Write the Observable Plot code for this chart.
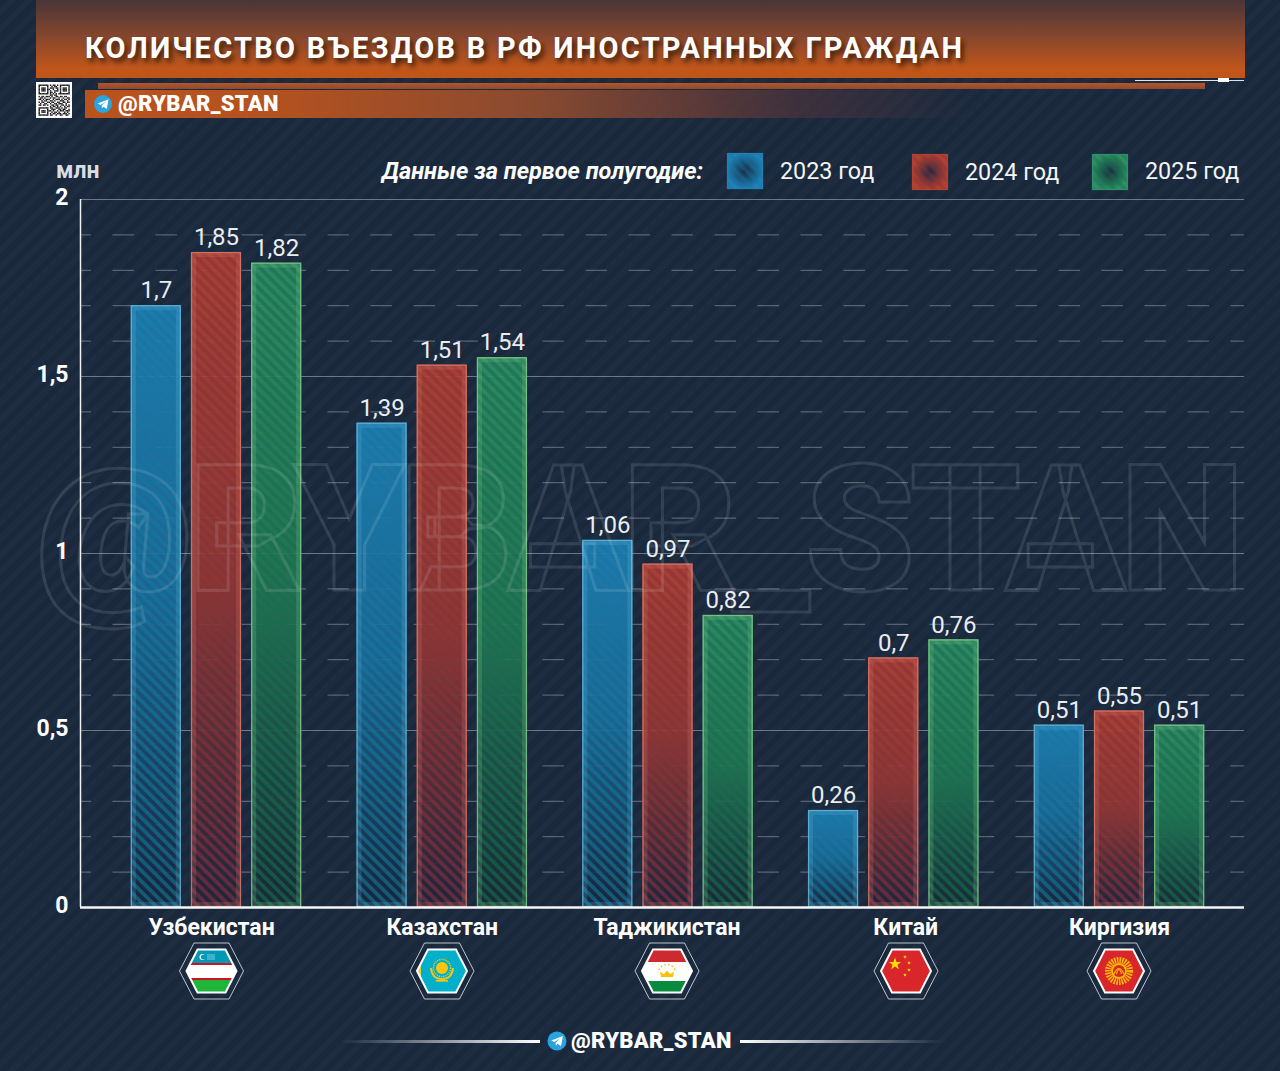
<!DOCTYPE html>
<html lang="ru">
<head>
<meta charset="utf-8">
<script src="https://cdn.jsdelivr.net/npm/d3@7"></script>
<script src="https://cdn.jsdelivr.net/npm/@observablehq/plot@0.6"></script>
<style>
html,body{margin:0;padding:0;background:#1b2a3f;}
#page{position:relative;width:1280px;height:1071px;overflow:hidden;font-family:Roboto,sans-serif;color:#fff;
 background:repeating-linear-gradient(135deg,#19283b 0 6px,#1d2c41 6px 12px);}
#page>*{position:absolute;}
#chart{left:0;top:0;width:1280px;height:1071px;}
#chart svg{display:block;background:transparent;overflow:visible;}
#head{left:36px;top:0;width:1209px;height:78px;background:linear-gradient(180deg,#4a3539 0%,#7f452f 42%,#c0561a 88%,#bf5519 100%);}
#title{left:85px;top:30px;font-size:29px;font-weight:700;letter-spacing:2.25px;white-space:nowrap;line-height:36px;text-shadow:3px 4px 5px rgba(30,15,10,.75);}
#strip{left:98px;top:83px;width:1107px;height:6px;background:linear-gradient(180deg,#b5552a,#8d4a30);}
#wline{left:1135px;top:80px;width:109px;height:1px;background:#dfe4ea;}
#wdot{left:1218px;top:78px;width:11px;height:4px;background:#fff;}
#sub{left:85px;top:90px;width:890px;height:28px;background:linear-gradient(90deg,#b9531e 0%,#b5521f 20%,#8a4a30 50%,rgba(70,50,60,.8) 80%,rgba(50,45,60,0) 100%);}
.tag{font-weight:900;white-space:nowrap;letter-spacing:.3px;}
#tag1{left:118px;top:91px;font-size:22px;line-height:26px;}
#tag2{left:571px;top:1028px;font-size:22px;line-height:26px;}
#unit{left:56px;top:159px;font-size:23px;font-weight:700;color:#d7dde3;line-height:24px;}
#lgd{left:382px;top:157px;font-size:23.5px;font-weight:700;font-style:italic;line-height:28px;white-space:nowrap;}
.ly{font-size:23.3px;line-height:28px;white-space:nowrap;color:#f2f4f6;}
.fl{height:3px;top:1040px;}
#overlay{left:0;top:0;pointer-events:none;}
</style>
</head>
<body>
<svg width="0" height="0" style="position:absolute">
 <defs id="defs"></defs>
</svg>
<div id="page">
 <div id="head"></div>
 <div id="title">КОЛИЧЕСТВО ВЪЕЗДОВ В РФ ИНОСТРАННЫХ ГРАЖДАН</div>
 <div id="strip"></div><div id="wline"></div><div id="wdot"></div>
 <div id="sub"></div>
 <div id="tag1" class="tag">@RYBAR_STAN</div>
 <div id="unit">млн</div>
 <div id="lgd">Данные за первое полугодие:</div>
 <div class="ly" style="left:780px;top:157px">2023 год</div>
 <div class="ly" style="left:965px;top:158px">2024 год</div>
 <div class="ly" style="left:1145px;top:157px">2025 год</div>
 <div id="chart"></div>
 <svg id="overlay" width="1280" height="1071"></svg>
 <div class="fl" style="left:340px;width:200px;background:linear-gradient(90deg,rgba(255,255,255,0),#fff)"></div>
 <div id="tag2" class="tag">@RYBAR_STAN</div>
 <div class="fl" style="left:740px;width:205px;background:linear-gradient(90deg,#fff,rgba(255,255,255,0))"></div>
</div>
<script>
// Data: labels as printed; bar heights as drawn in the picture (the two differ slightly in the source)
const countries = ["Узбекистан","Казахстан","Таджикистан","Китай","Киргизия"];
const years = ["2023","2024","2025"];
const labels2023 = ["1,7","1,39","1,06","0,26","0,51"];
const labels2024 = ["1,85","1,51","0,97","0,7","0,55"];
const labels2025 = ["1,82","1,54","0,82","0,76","0,51"];
const drawn2023 = [1.70,1.368,1.037,0.274,0.515];
const drawn2024 = [1.85,1.532,0.97,0.705,0.555];
const drawn2025 = [1.82,1.553,0.825,0.756,0.515];
const majorTicks = [0,0.5,1,1.5,2];
const minorTicks = [0.1,0.2,0.3,0.4,0.6,0.7,0.8,0.9,1.1,1.2,1.3,1.4,1.6,1.7,1.8,1.9];
const labelShift = [-0.022,0,-0.004,0.053,0];

const palette = {
 "2023":{top:"#2280b8",mid:"#1c6b9b",bot:"#18283f",stripe:"#0f7a9e",edge:"#66b8da"},
 "2024":{top:"#b14231",mid:"#963a31",bot:"#22263c",stripe:"#8c2f3c",edge:"#dc7a6c"},
 "2025":{top:"#2f8f68",mid:"#237a58",bot:"#182c3a",stripe:"#14704a",edge:"#82cc8c"}
};
let defs="";
for(const y of years){const p=palette[y];
 defs+=`<linearGradient id="g${y}" x1="0" y1="0" x2="0" y2="1"><stop offset="0" stop-color="${p.top}" stop-opacity=".92"/><stop offset=".5" stop-color="${p.mid}" stop-opacity=".88"/><stop offset=".97" stop-color="${p.bot}" stop-opacity=".92"/></linearGradient>
 <pattern id="h${y}" width="7.5" height="7.5" patternUnits="userSpaceOnUse" patternTransform="rotate(-45)"><rect width="3.75" height="7.5" fill="${p.stripe}" fill-opacity=".6"/></pattern>
 <radialGradient id="s${y}"><stop offset="0" stop-color="#1c2a42"/><stop offset=".75" stop-color="${p.mid}"/><stop offset="1" stop-color="${p.top}"/></radialGradient>`;
}
document.getElementById("defs").innerHTML=defs;

// x is a continuous "group" axis: each country is one unit, years sit side by side inside it
const barStep = 0.2666, barHalf = 0.1107;
const table = [];
const labelSets={"2023":labels2023,"2024":labels2024,"2025":labels2025};
const drawnSets={"2023":drawn2023,"2024":drawn2024,"2025":drawn2025};
years.forEach((y,j)=>countries.forEach((c,i)=>table.push({country:c,year:y,pos:i+(j-1)*barStep,value:drawnSets[y][i],label:labelSets[y][i]})));

const barsFor = y => {
 const rows = table.filter(d=>d.year===y), p=palette[y];
 const opt={x1:d=>d.pos-barHalf,x2:d=>d.pos+barHalf,y1:0,y2:"value"};
 return [
  Plot.rect(rows,{...opt,fill:`url(#g${y})`}),
  Plot.rect(rows,{...opt,fill:`url(#h${y})`}),
  Plot.rect(rows,{...opt,fill:"none",stroke:p.edge,strokeWidth:5,strokeOpacity:.22,inset:2.5}),
  Plot.rect(rows,{...opt,fill:"none",stroke:p.edge,strokeWidth:1.3,strokeOpacity:.8,inset:.5})
 ];
};

const plot = Plot.plot({
 width:1280,height:1071,marginLeft:80,marginRight:36,marginTop:199,marginBottom:164,
 style:{background:"transparent",fontFamily:"Roboto,sans-serif"},
 x:{domain:[-0.6024,4.5537],axis:null,label:null},
 y:{domain:[0,2],axis:null,label:null},
 marks:[
  Plot.ruleY(minorTicks,{stroke:"#cfd8e0",strokeOpacity:.42,strokeWidth:1,strokeDasharray:"21.5,21.5",strokeDashoffset:10.5}),
  Plot.ruleY(majorTicks.filter(d=>d>0),{stroke:"#cfd8e0",strokeOpacity:.45,strokeWidth:1.2}),
  ...years.flatMap(barsFor),
  Plot.text(table,{x:"pos",y:"value",text:"label",dy:-15,fontSize:24,fill:"#e9edf1"}),
  Plot.text(countries,{x:(d,i)=>i+labelShift[i],text:d=>d,frameAnchor:"bottom",dy:27,fontSize:23,fontWeight:700,fill:"#fff"}),
  Plot.axisY({anchor:"left",ticks:majorTicks,tickSize:0,tickPadding:12,tickFormat:d=>String(d).replace(".",","),fontSize:23,fontWeight:700,fill:"#fff",label:null,dy:-2}),
  Plot.ruleY([0],{stroke:"#f4f6f8",strokeWidth:2.5}),
  Plot.ruleX([-0.6024],{stroke:"#eef1f4",strokeWidth:1.5})
 ]
});
document.getElementById("chart").appendChild(plot);

// Decorations: watermark, logos, legend swatches, flags
const hex=(w,h,t)=>`${-w},0 ${-t},${-h} ${t},${-h} ${w},0 ${t},${h} ${-t},${h}`;
const tg=(x,y,r)=>`<circle cx="${x}" cy="${y}" r="${r}" fill="#2aa4de"/><path transform="translate(${x} ${y}) scale(${r/10})" d="M-6-.5 6.2-5.2 4.2 5.6 .6 3-1.2 4.8-1.5 1.8 3.5-2.8-2.7 1Z" fill="#fff"/>`;
const star=(x,y,r,rot=0)=>{let s=[];for(let i=0;i<10;i++){const a=-Math.PI/2+i*Math.PI/5+rot,q=i%2?r*.4:r;s.push((x+q*Math.cos(a)).toFixed(2)+","+(y+q*Math.sin(a)).toFixed(2));}return `<polygon points="${s.join(" ")}" fill="#ffde00"/>`;};
const flagBody={
 uz:`<rect x="-26" y="-23" width="52" height="15" fill="#0099b5"/><rect x="-26" y="-8" width="52" height="2" fill="#ce1126"/><rect x="-26" y="-6" width="52" height="13" fill="#fff"/><rect x="-26" y="7" width="52" height="2" fill="#ce1126"/><rect x="-26" y="9" width="52" height="14" fill="#1eb53a"/><circle cx="-9" cy="-14" r="3" fill="#fff"/><circle cx="-8" cy="-14" r="2.6" fill="#0099b5"/><path d="M-4-16H4M-4-14H4M-4-12H4" stroke="#fff" stroke-width="1" stroke-dasharray="1 1"/>`,
 kz:`<rect x="-26" y="-23" width="52" height="46" fill="#00afca"/><rect x="-26" y="-23" width="5" height="46" fill="#d8cf4a"/><circle cx="0" cy="-3" r="6" fill="#fec50c"/><circle cx="0" cy="-3" r="8.6" fill="none" stroke="#fec50c" stroke-width="1.4" stroke-dasharray="1.2 1"/><path d="M-11-3Q-10 8 0 8Q10 8 11-3" fill="none" stroke="#fec50c" stroke-width="2"/><rect x="-6" y="9" width="12" height="1.6" fill="#fec50c"/>`,
 tj:`<rect x="-26" y="-23" width="52" height="14" fill="#cc2a2e"/><rect x="-26" y="-9" width="52" height="19" fill="#fff"/><rect x="-26" y="10" width="52" height="13" fill="#0a8a3c"/><path d="M-6 6H6L7 1 3 3 0-.5-3 3-7 1Z" fill="#f8c300"/><path d="M-8-1A8.5 8.5 0 0 1 8-1" fill="none" stroke="#f8c300" stroke-width="1.6" stroke-dasharray="1.4 2.4"/>`,
 cn:`<rect x="-26" y="-23" width="52" height="46" fill="#d8262a"/>${star(-11,-7,6.5)}${star(-1,-14,2)}${star(3,-8,2)}${star(3,-1,2)}${star(-1,4,2)}`,
 kg:`<rect x="-26" y="-23" width="52" height="46" fill="#d8262a"/><circle r="11" fill="none" stroke="#f8b800" stroke-width="6" stroke-dasharray="1.6 1"/><circle r="8" fill="#f8b800"/><circle r="6" fill="#d8262a"/><path d="M-5 3Q0-8 5 3M-2.5 3Q0-6 2.5 3" fill="none" stroke="#f8b800" stroke-width="1.2"/>`
};
const flagPos=[["uz",211.5],["kz",442],["tj",667],["cn",906],["kg",1119]];
const qrRows=["1111111010110101111111","1000001001011001000001","1011101011101101011101","1011101100100101011101","1011101010011101011101","1000001011010001000001","1111111010101011111111","0000000011011000000000","1011011101001101101100","0110100010110010010011","1101011100101110101101","0010110011010001110010","1011001101100110011011","0100110010011011100100","1101101001101100110101","0000000010110101001011","1111111011001110101100","1000001001110011011001","1011101110100101110111","1011101001011010001010","1000001010110111011101","1111111011001001100110"];
let o=`<defs><clipPath id="fhex"><polygon points="${hex(25,21.5,14)}"/></clipPath></defs>`;
o+=`<text x="36" y="590" font-size="176" font-weight="900" font-family="Roboto,sans-serif" fill="none" stroke="#fff" stroke-opacity=".11" stroke-width="3" textLength="1208" lengthAdjust="spacing">@RYBAR_STAN</text>`;
[[727,153,"2023"],[912,154,"2024"],[1092,154,"2025"]].forEach(([x,y,k])=>{const p=palette[k];
 o+=`<rect x="${x}" y="${y}" width="36" height="36" fill="url(#s${k})"/><rect x="${x}" y="${y}" width="36" height="36" fill="url(#h${k})" fill-opacity=".6"/><rect x="${x+.5}" y="${y+.5}" width="35" height="35" fill="none" stroke="${p.top}" stroke-width="1.2"/>`;});
o+=`<rect x="36" y="82" width="36" height="36" fill="#fff"/>`;
qrRows.forEach((r,j)=>[...r].forEach((b,i)=>{if(b==="1")o+=`<rect x="${38.5+i*1.42}" y="${84.5+j*1.42}" width="1.45" height="1.45" fill="#1a1a1a"/>`;}));
o+=tg(103,104,9)+tg(557,1041,9.5);
flagPos.forEach(([k,x])=>{
 o+=`<g transform="translate(${x} 971)"><polygon points="${hex(32,28,17.5)}" fill="none" stroke="#e6ebf0" stroke-width=".8"/><g clip-path="url(#fhex)">${flagBody[k]}</g><polygon points="${hex(25,21.5,14)}" fill="none" stroke="#fff" stroke-width="2"/></g>`;
});
document.getElementById("overlay").innerHTML=o;
</script>
</body>
</html>
